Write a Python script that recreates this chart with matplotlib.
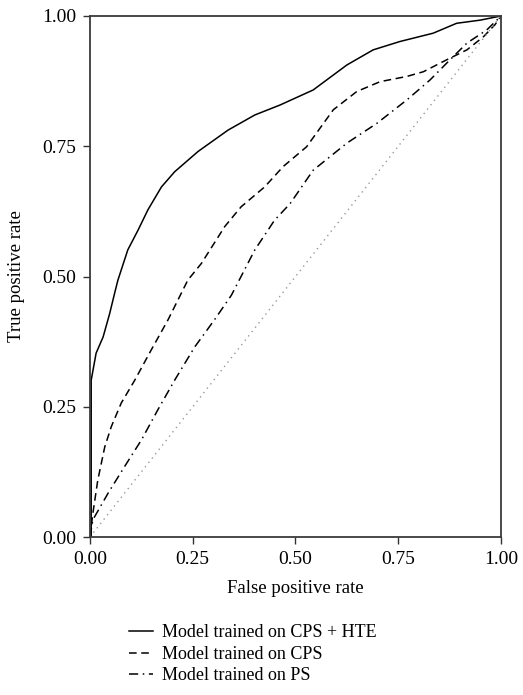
import matplotlib
matplotlib.use("Agg")
import matplotlib.pyplot as plt

plt.rcParams['font.family'] = ['Liberation Serif', 'DejaVu Serif']

# ROC curves
fpr_hte = [0.0, 0.003, 0.003, 0.015, 0.032, 0.048, 0.060, 0.068, 0.092, 0.117,
           0.141, 0.174, 0.206, 0.263, 0.336, 0.401, 0.462, 0.543, 0.625, 0.689,
           0.754, 0.835, 0.892, 0.949, 1.0]
tpr_hte = [0.0, 0.0, 0.301, 0.353, 0.384, 0.429, 0.468, 0.493, 0.551, 0.589,
           0.628, 0.672, 0.701, 0.740, 0.781, 0.810, 0.829, 0.858, 0.906, 0.935,
           0.951, 0.967, 0.986, 0.992, 1.0]

fpr_cps = [0.0, 0.007, 0.019, 0.036, 0.052, 0.076, 0.109, 0.149, 0.190, 0.238,
           0.271, 0.328, 0.368, 0.425, 0.470, 0.527, 0.592, 0.649, 0.706, 0.771,
           0.811, 0.868, 0.917, 0.957, 0.985, 1.0]
tpr_cps = [0.0, 0.045, 0.109, 0.173, 0.212, 0.257, 0.301, 0.359, 0.417, 0.493,
           0.525, 0.596, 0.634, 0.672, 0.711, 0.749, 0.820, 0.855, 0.874, 0.884,
           0.893, 0.916, 0.935, 0.960, 0.983, 1.0]

fpr_ps = [0.0, 0.007, 0.044, 0.084, 0.125, 0.165, 0.206, 0.255, 0.303, 0.344,
          0.401, 0.449, 0.487, 0.543, 0.625, 0.698, 0.771, 0.827, 0.876, 0.917,
          0.965, 1.0]
tpr_ps = [0.0, 0.033, 0.084, 0.135, 0.186, 0.244, 0.301, 0.365, 0.417, 0.464,
          0.551, 0.608, 0.640, 0.704, 0.756, 0.794, 0.839, 0.877, 0.916, 0.948,
          0.973, 1.0]

labels = ["Model trained on CPS + HTE", "Model trained on CPS", "Model trained on PS"]
ticks = [0.0, 0.25, 0.5, 0.75, 1.0]

fig = plt.figure(figsize=(5.23, 6.95), dpi=100)
ax = fig.add_axes([0.172, 0.2273, 0.786, 0.7497])

ax.plot(fpr_hte, tpr_hte, color='black', lw=1.1, ls='-', label=labels[0])
ax.plot(fpr_cps, tpr_cps, color='black', lw=1.1, ls=(0, (5, 3)), label=labels[1])
ax.plot(fpr_ps, tpr_ps, color='black', lw=1.1, ls=(0, (6, 3, 1, 3)), label=labels[2])
ax.plot([0, 1], [0, 1], color='#999999', lw=1.0, ls=(0, (1, 3)))

ax.set_xlim(0, 1)
ax.set_ylim(0, 1)
ax.set_xticks(ticks)
ax.set_yticks(ticks)
ax.set_xticklabels([f"{t:.2f}" for t in ticks])
ax.set_yticklabels([f"{t:.2f}" for t in ticks])
ax.tick_params(direction='out', length=5, width=1, labelsize=14, color='#333333', pad=5)
for s in ax.spines.values():
    s.set_linewidth(1.3)
    s.set_color('#3a3a3a')
ax.set_xlabel("False positive rate", fontsize=13.5, labelpad=9)
ax.set_ylabel("True positive rate", fontsize=13.5, labelpad=12)

handles, labs = ax.get_legend_handles_labels()
fig.legend(handles, labs, loc='upper left', bbox_to_anchor=(0.233, 0.112),
           frameon=False, fontsize=13, handlelength=1.35, handletextpad=0.5,
           labelspacing=0.25, borderaxespad=0)

fig.savefig("out.png", dpi=100)
